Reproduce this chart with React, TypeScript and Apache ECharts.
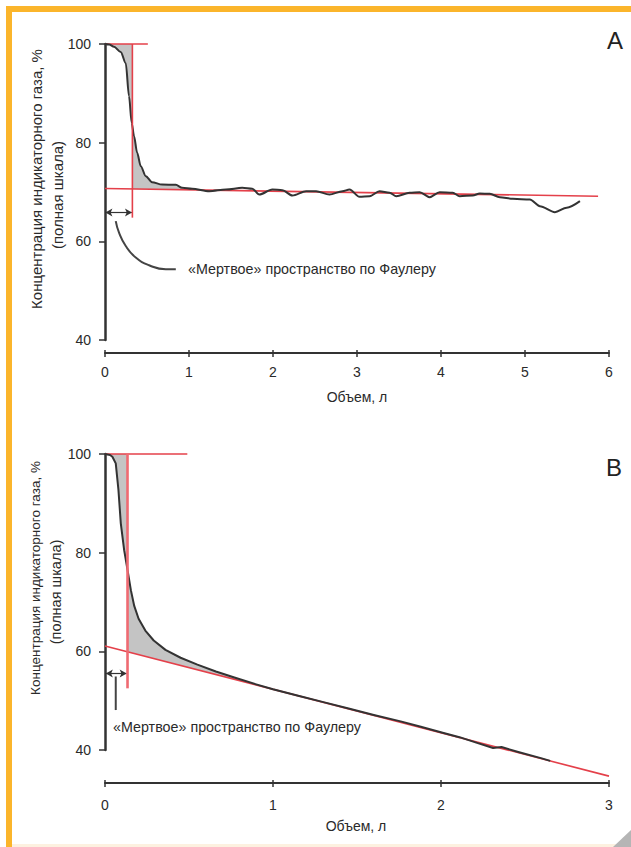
import { useEffect, useRef } from "react";
import * as echarts from "echarts";

const FONT = '"Liberation Sans", Arial, sans-serif';
const INK = "#333333";
const RED = "#e4404a";
const FILL = "#c4c4c4";

// ---------------- Panel A ----------------
const xMaxA = 6;
const curveA: number[][] = [
  [0, 100], [0.05, 99.9], [0.107, 99.45], [0.187, 98.4], [0.247, 96.1], [0.286, 89.4],
  [0.318, 84.0], [0.346, 81.3], [0.382, 78.0], [0.426, 75.2], [0.486, 73.2], [0.56, 72.0],
  [0.68, 71.5], [0.843, 71.45], [0.919, 70.85], [1.038, 70.65], [1.241, 70.16], [1.44, 70.51],
  [1.634, 70.85], [1.754, 70.65], [1.837, 69.49], [1.992, 70.51], [2.111, 70.36], [2.231, 69.29],
  [2.394, 70.16], [2.513, 70.16], [2.672, 69.49], [2.827, 70.16], [2.911, 70.51], [3.03, 69.03],
  [3.149, 69.15], [3.268, 70.16], [3.388, 69.84], [3.468, 69.15], [3.626, 69.84], [3.746, 69.96],
  [3.865, 68.95], [3.984, 69.96], [4.139, 69.84], [4.223, 69.15], [4.378, 69.29], [4.461, 69.7],
  [4.581, 69.64], [4.7, 68.95], [4.855, 68.63], [5.058, 68.48], [5.177, 67.13], [5.356, 65.92],
  [5.496, 66.81], [5.654, 68.14],
];
const baselineA: number[][] = [[0, 70.7], [5.87, 69.15]];
const topLineA: number[][] = [[0, 100], [0.51, 100]];
const dividerXA = 0.326;
const dividerBottomA = 64.8;
const deadSpaceYA = 65.85;
const leaderA: number[][] = [
  [0.128, 64.1], [0.167, 61.76], [0.247, 59.05], [0.366, 56.71], [0.525, 55.15], [0.724, 54.34], [0.843, 54.34],
];
const fillCurveEndA = 0.85;
const fillCloseA = 0.95;

// ---------------- Panel B ----------------
const xMaxB = 3;
const curveB: number[][] = [
  [0, 100], [0.03, 99.8], [0.044, 99.45], [0.064, 98.1], [0.08, 92.7], [0.094, 85.95], [0.114, 80.5],
  [0.134, 76.5], [0.154, 72.4], [0.174, 69.2], [0.2, 66.6], [0.24, 64.2], [0.29, 62.2], [0.36, 60.3],
  [0.45, 58.7], [0.55, 57.3], [0.66, 55.9], [0.77, 54.7], [0.9, 53.3], [1.0, 52.3], [1.15, 51.0],
  [1.3, 49.7], [1.45, 48.4], [1.6, 47.1], [1.76, 45.8], [1.88, 44.7], [2.01, 43.5], [2.11, 42.6],
  [2.21, 41.5], [2.31, 40.4], [2.36, 40.6], [2.46, 39.6], [2.6, 38.3], [2.65, 37.8],
];
const baselineB: number[][] = [[0, 61.1], [3, 34.7]];
const topLineB: number[][] = [[0, 100], [0.49, 100]];
const dividerXB = 0.134;
const dividerBottomB = 52.5;
const deadSpaceYB = 55.5;
const leaderB: number[][] = [[0.064, 54.9], [0.064, 48.1]];
const fillCurveEndB = 0.7;
const fillCloseB = 0.85;

const yTitle1 = "Концентрация индикаторного газа, %";
const yTitle2 = "(полная шкала)";
const xTitle = "Объем, л";
const note = "«Мертвое» пространство по Фаулеру";

function lineAt(line: number[][], x: number) {
  const [[x0, y0], [x1, y1]] = line;
  return y0 + ((y1 - y0) * (x - x0)) / (x1 - x0);
}
function curveAt(curve: number[][], x: number) {
  for (let i = 1; i < curve.length; i++) {
    if (curve[i][0] >= x) {
      const a = curve[i - 1], b = curve[i];
      return a[1] + ((b[1] - a[1]) * (x - a[0])) / (b[0] - a[0]);
    }
  }
  return curve[curve.length - 1][1];
}
function buildLobes(curve: number[][], baseline: number[][], xv: number, curveEnd: number, closeX: number) {
  const yv = curveAt(curve, xv);
  const lobe1 = [[0, 100], ...curve.filter((p) => p[0] > 0 && p[0] < xv), [xv, yv], [xv, 100]];
  const lobe2 = [
    [xv, yv],
    ...curve.filter((p) => p[0] > xv && p[0] <= curveEnd),
    [closeX, lineAt(baseline, closeX)],
    [xv, lineAt(baseline, xv)],
  ];
  return [lobe1, lobe2];
}

function panelSeries(
  gi: number,
  curve: number[][],
  baseline: number[][],
  topLine: number[][],
  dividerX: number,
  dividerBottom: number,
  deadY: number,
  leader: number[][],
  leaderSmooth: boolean,
  fillEnd: number,
  fillClose: number,
  dividerStyle: { color: string; width: number },
  curveSmooth: any
): any[] {
  const xi = gi * 2;
  const lobes = buildLobes(curve, baseline, dividerX, fillEnd, fillClose);
  const common = { xAxisIndex: xi, yAxisIndex: gi, showSymbol: false, silent: true, clip: false };
  return [
    {
      type: "custom",
      xAxisIndex: xi,
      yAxisIndex: gi,
      coordinateSystem: "cartesian2d",
      silent: true,
      z: 1,
      data: lobes.map((l) => l[0]),
      renderItem: (params: any, api: any) => {
        const poly = lobes[params.dataIndex];
        return {
          type: "polygon",
          shape: { points: poly.map((p) => api.coord(p)) },
          style: { fill: FILL, stroke: "none" },
        };
      },
    },
    { ...common, type: "line", data: baseline, z: 3, lineStyle: { color: RED, width: 1.6 } },
    { ...common, type: "line", data: topLine, z: 3, lineStyle: { color: RED, width: 1.6 } },
    {
      ...common,
      type: "line",
      data: [[dividerX, 100], [dividerX, dividerBottom]],
      z: 5,
      lineStyle: dividerStyle,
    },
    {
      ...common,
      type: "line",
      data: curve,
      z: 4,
      ...curveSmooth,
      lineStyle: { color: INK, width: 2, join: "round" },
    },
    {
      ...common,
      type: "line",
      data: leader,
      z: 4,
      smooth: leaderSmooth ? 0.5 : false,
      lineStyle: { color: "#444", width: 2 },
    },
    {
      ...common,
      type: "line",
      data: [[0, deadY]],
      z: 6,
      lineStyle: { width: 0, opacity: 0 },
      markLine: {
        silent: true,
        symbol: ["arrow", "arrow"],
        symbolSize: [6, 7],
        label: { show: false },
        lineStyle: { color: INK, width: 1.2, type: "solid" },
        data: [[{ coord: [0.005, deadY] }, { coord: [dividerX - 0.005, deadY] }]],
      },
    },
  ];
}

function xAxes(gi: number, max: number, offset: number, margin: number) {
  return [
    {
      type: "value",
      gridIndex: gi,
      min: 0,
      max,
      interval: 1,
      position: "bottom",
      offset,
      axisLine: { show: true, onZero: false, lineStyle: { color: INK, width: 2 } },
      axisTick: { show: true, length: 4, lineStyle: { color: INK, width: 1.5 } },
      axisLabel: { margin, fontSize: 14, color: "#2a2a2a", fontFamily: FONT },
      splitLine: { show: false },
    },
    {
      type: "value",
      gridIndex: gi,
      min: 0,
      max,
      interval: 1,
      position: "bottom",
      offset,
      axisLine: { show: false, onZero: false },
      axisTick: { show: true, inside: true, length: 3, lineStyle: { color: INK, width: 1.5 } },
      axisLabel: { show: false },
      splitLine: { show: false },
    },
  ];
}

function yAxis(gi: number) {
  return {
    type: "value",
    gridIndex: gi,
    min: 40,
    max: 100,
    interval: 20,
    axisLine: { show: true, onZero: false, lineStyle: { color: INK, width: 2.5 } },
    axisTick: { show: true, length: 6, lineStyle: { color: INK, width: 1.5 } },
    axisLabel: { margin: 14, fontSize: 14, color: "#2a2a2a", fontFamily: FONT },
    splitLine: { show: false },
  };
}

function txt(text: string, x: number, y: number, opts: any = {}) {
  return {
    type: "text",
    x,
    y,
    rotation: opts.rotation || 0,
    silent: true,
    z: 10,
    style: {
      text,
      fill: opts.fill || "#2a2a2a",
      font: `${opts.size || 14}px ${FONT}`,
      align: opts.align || "left",
      verticalAlign: "middle",
    },
  };
}

export default function App() {
  const ref = useRef<HTMLDivElement>(null);
  useEffect(() => {
    if (!ref.current) return;
    const chart = echarts.init(ref.current, null, { renderer: "svg" });
    const option: any = {
      animation: false,
      backgroundColor: "#ffffff",
      grid: [
        { left: 105, top: 44, width: 504, height: 296 },
        { left: 105, top: 454, width: 504, height: 296 },
      ],
      xAxis: [...xAxes(0, xMaxA, 13, 12), ...xAxes(1, xMaxB, 33, 15)],
      yAxis: [yAxis(0), yAxis(1)],
      series: [
        ...panelSeries(0, curveA, baselineA, topLineA, dividerXA, dividerBottomA, deadSpaceYA, leaderA, true,
          fillCurveEndA, fillCloseA, { color: RED, width: 1.6 }, { smooth: 0.3, smoothMonotone: "x" }),
        ...panelSeries(1, curveB, baselineB, topLineB, dividerXB, dividerBottomB, deadSpaceYB, leaderB, false,
          fillCurveEndB, fillCloseB, { color: "#ef6a72", width: 2.6 }, { smooth: false }),
      ],
      graphic: [
        { type: "rect", silent: true, shape: { x: 6, y: 6, width: 625, height: 6 }, style: { fill: "#fbb52b" } },
        { type: "rect", silent: true, shape: { x: 6, y: 6, width: 6, height: 841 }, style: { fill: "#fbb52b" } },
        { type: "rect", silent: true, shape: { x: 12, y: 844, width: 619, height: 3 }, style: { fill: "#fdf1e0" } },
        {
          type: "polygon",
          silent: true,
          shape: { points: [[613, 847], [631, 830], [631, 847]] },
          style: { fill: "#b5b5b5" },
        },
        txt("A", 615, 40, { size: 24, align: "center", fill: "#222" }),
        txt("B", 614, 467, { size: 24, align: "center", fill: "#222" }),
        txt(yTitle1, 36, 179, { rotation: Math.PI / 2, align: "center", size: 15 }),
        txt(yTitle2, 57, 195, { rotation: Math.PI / 2, align: "center", size: 15 }),
        txt(yTitle1, 35, 578, { rotation: Math.PI / 2, align: "center", size: 13.5 }),
        txt(yTitle2, 56, 592, { rotation: Math.PI / 2, align: "center", size: 14.5 }),
        txt(xTitle, 357, 397, { align: "center" }),
        txt(xTitle, 356, 826, { align: "center" }),
        txt(note, 188, 269, { size: 14.3 }),
        txt(note, 113, 727, { size: 14.3 }),
      ],
    };
    chart.setOption(option);
    return () => chart.dispose();
  }, []);
  return (
    <div
      ref={ref}
      style={{ position: "fixed", left: 0, top: 0, width: 631, height: 847, background: "#fff" }}
    />
  );
}
